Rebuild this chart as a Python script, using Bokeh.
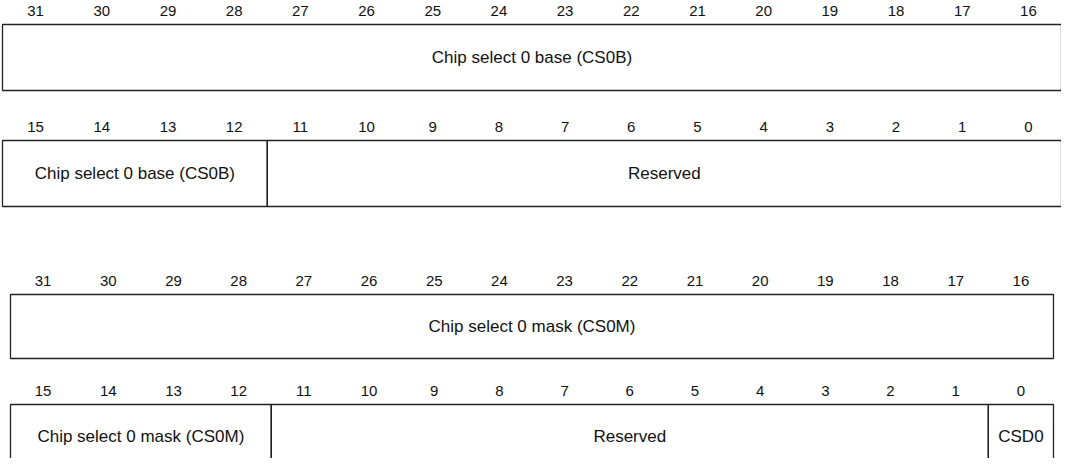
from bokeh.plotting import figure
from bokeh.models import Range1d, ColumnDataSource
from bokeh.core.properties import value
from bokeh.embed import file_html
from bokeh.resources import INLINE

# ---- data ----
bits_high = list(range(31, 15, -1))
bits_low = list(range(15, -1, -1))

reg0_high_fields = [(31, 16, "Chip select 0 base (CS0B)")]
reg0_low_fields = [(15, 12, "Chip select 0 base (CS0B)"), (11, 0, "Reserved")]
reg1_high_fields = [(31, 16, "Chip select 0 mask (CS0M)")]
reg1_low_fields = [(15, 12, "Chip select 0 mask (CS0M)"), (11, 1, "Reserved"), (0, 0, "CSD0")]

# ---- layout (page pixel space) ----
W, H = 1061, 458
registers = [
    dict(left=10, right=1069, rows=[(32, 66, bits_high, reg0_high_fields),
                                    (148, 66, bits_low, reg0_low_fields)]),
    dict(left=18, right=1061, rows=[(302, 64, bits_high, reg1_high_fields),
                                    (412, 64, bits_low, reg1_low_fields)]),
]
LABEL_GAP = 14
LINE = "#222222"
TXT = "#111111"
FONT = "Liberation Sans"

p = figure(width=W, height=H, output_backend="svg", toolbar_location=None,
           x_range=Range1d(8, 8 + W), y_range=Range1d(8 + H, 8),
           min_border=0, min_border_left=0, min_border_right=0,
           min_border_top=0, min_border_bottom=0)
p.axis.visible = False
p.grid.visible = False
p.outline_line_color = None
p.background_fill_color = "white"
p.border_fill_color = "white"

for reg in registers:
    left, right = reg["left"], reg["right"]
    bw = (right - left) / 16.0
    for top, h, bits, fields in reg["rows"]:
        hi = bits[0]
        col = lambda b: hi - b  # column index of bit b
        # bit numbers
        lx = [left + (col(b) + 0.5) * bw for b in bits]
        p.text(x=lx, y=[top - LABEL_GAP] * len(bits), text=[str(b) for b in bits],
               text_align="center", text_baseline="middle",
               text_font=value(FONT), text_font_size="15px", text_color=TXT)
        # field boxes
        l = [left + col(f[0]) * bw for f in fields]
        r = [left + (col(f[1]) + 1) * bw for f in fields]
        src = ColumnDataSource(dict(left=l, right=r, top=[top] * len(fields),
                                    bottom=[top + h] * len(fields),
                                    cx=[(a + b) / 2 for a, b in zip(l, r)],
                                    cy=[top + h / 2] * len(fields),
                                    name=[f[2] for f in fields]))
        p.quad(left="left", right="right", top="top", bottom="bottom", source=src,
               fill_color=None, line_color=LINE, line_width=1.3)
        p.text(x="cx", y="cy", text="name", source=src, text_align="center",
               text_baseline="middle", text_font=value(FONT), text_font_size="17px",
               text_color=TXT)

open("out.html", "w").write(file_html(p, INLINE))
